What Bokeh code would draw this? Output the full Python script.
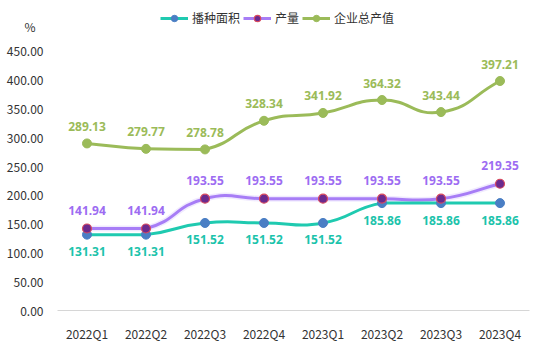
import math
from bokeh.plotting import figure
from bokeh.models import (Range1d, FixedTicker, CustomJSTickFormatter, Legend, LegendItem,
                          ColumnDataSource)
from bokeh.core.properties import value
from bokeh.embed import file_html
from bokeh.resources import INLINE

categories = ["2022Q1", "2022Q2", "2022Q3", "2022Q4", "2023Q1", "2023Q2", "2023Q3", "2023Q4"]
area = [131.31, 131.31, 151.52, 151.52, 151.52, 185.86, 185.86, 185.86]
output = [141.94, 141.94, 193.55, 193.55, 193.55, 193.55, 193.55, 219.35]
value_total = [289.13, 279.77, 278.78, 328.34, 341.92, 364.32, 343.44, 397.21]
series_names = ["播种面积", "产量", "企业总产值"]
y_ticks = [0, 50, 100, 150, 200, 250, 300, 350, 400, 450]
y_unit = "%"

W, H = 555, 353
LEFT, RIGHT, BOTTOM = 57, 26, 43
frame_w = W - LEFT - RIGHT
frame_h = H - BOTTOM
PX_X = frame_w / 8.0
PX_Y = 260.0 / 450.0
Y_TOP = frame_h / PX_Y
UNIT_POS = (frame_h - 26) / PX_Y

FONT = "Noto Sans CJK SC"
NUMFONT = "Noto Sans"

p = figure(width=W, height=H, output_backend="svg", toolbar_location=None,
           x_range=Range1d(-0.5, 7.5), y_range=Range1d(0, Y_TOP),
           min_border_left=LEFT, min_border_right=RIGHT, min_border_top=0,
           min_border_bottom=BOTTOM)
p.outline_line_color = None
p.grid.visible = False
p.background_fill_color = "white"
p.border_fill_color = "white"

xs = list(range(len(categories)))


def smooth_curve(xv, yv, smooth=0.5):
    # smooth bezier control points (cardinal-like), computed in pixel space
    pts = [(x * PX_X, y * PX_Y) for x, y in zip(xv, yv)]
    n = len(pts)
    minx = min(q[0] for q in pts); maxx = max(q[0] for q in pts)
    miny = min(q[1] for q in pts); maxy = max(q[1] for q in pts)
    cps = []
    for i in range(n):
        pt = pts[i]
        prv = pts[i - 1] if i > 0 else pt
        nxt = pts[i + 1] if i < n - 1 else pt
        vx = (nxt[0] - prv[0]) * smooth
        vy = (nxt[1] - prv[1]) * smooth
        d0 = math.hypot(pt[0] - prv[0], pt[1] - prv[1])
        d1 = math.hypot(pt[0] - nxt[0], pt[1] - nxt[1])
        s = d0 + d1
        if s:
            d0 /= s
            d1 /= s
        c0 = (pt[0] - vx * d0, pt[1] - vy * d0)
        c1 = (pt[0] + vx * d1, pt[1] + vy * d1)
        clamp = lambda c: (min(max(c[0], minx), maxx), min(max(c[1], miny), maxy))
        cps.append((clamp(c0), clamp(c1)))
    d = dict(x0=[], y0=[], x1=[], y1=[], cx0=[], cy0=[], cx1=[], cy1=[])
    for i in range(n - 1):
        d["x0"].append(pts[i][0] / PX_X)
        d["y0"].append(pts[i][1] / PX_Y)
        d["x1"].append(pts[i + 1][0] / PX_X)
        d["y1"].append(pts[i + 1][1] / PX_Y)
        d["cx0"].append(cps[i][1][0] / PX_X)
        d["cy0"].append(cps[i][1][1] / PX_Y)
        d["cx1"].append(cps[i + 1][0][0] / PX_X)
        d["cy1"].append(cps[i + 1][0][1] / PX_Y)
    return ColumnDataSource(d)


teal = "#1FCAB0"
teal_text = "#1CC3AB"
blue_marker = "#4A7EC4"
purple_line = "#A77DF6"
purple_text = "#9D6CF2"
purple_marker = "#6A2A8E"
purple_edge = "#D94A5E"
green = "#9BBB59"

# green series
g_src = smooth_curve(xs, value_total)
g_line = p.bezier("x0", "y0", "x1", "y1", "cx0", "cy0", "cx1", "cy1", source=g_src,
                  line_color=green, line_width=3)
g_pts = p.scatter(xs, value_total, size=9, fill_color=green, line_color=green)

# purple series (with soft glow)
u_src = smooth_curve(xs, output)
p.bezier("x0", "y0", "x1", "y1", "cx0", "cy0", "cx1", "cy1", source=u_src,
         line_color="#D3C2FB", line_width=6, line_alpha=0.35)
u_line = p.bezier("x0", "y0", "x1", "y1", "cx0", "cy0", "cx1", "cy1", source=u_src,
                  line_color=purple_line, line_width=3)

# teal series
t_src = smooth_curve(xs, area)
t_line = p.bezier("x0", "y0", "x1", "y1", "cx0", "cy0", "cx1", "cy1", source=t_src,
                  line_color=teal, line_width=3)
t_pts = p.scatter(xs, area, size=9, fill_color=blue_marker, line_color=blue_marker)
u_pts = p.scatter(xs, output, size=9, fill_color=purple_marker, line_color=purple_edge,
                  line_width=1.2)

lbl = lambda v: ["%.2f" % t for t in v]
p.text(xs, value_total, text=lbl(value_total), text_color=green, text_font=value(NUMFONT),
       text_font_size="12px", text_font_style="bold", text_align="center",
       text_baseline="middle", y_offset=-17)
p.text(xs, output, text=lbl(output), text_color=purple_text, text_font=value(NUMFONT),
       text_font_size="12px", text_font_style="bold", text_align="center",
       text_baseline="middle", y_offset=-18)
p.text(xs, area, text=lbl(area), text_color=teal_text, text_font=value(NUMFONT),
       text_font_size="12px", text_font_style="bold", text_align="center",
       text_baseline="middle", y_offset=17)

# axes
p.yaxis.ticker = FixedTicker(ticks=y_ticks + [UNIT_POS])
p.yaxis.formatter = CustomJSTickFormatter(
    args=dict(unit=y_unit, upos=UNIT_POS),
    code="return Math.abs(tick - upos) < 1e-6 ? unit + '\\u00a0\\u00a0\\u00a0' : tick.toFixed(2);")
p.yaxis.axis_line_color = None
p.yaxis.major_tick_line_color = None
p.yaxis.minor_tick_line_color = None
p.yaxis.major_label_text_font = FONT
p.yaxis.major_label_text_font_size = "12px"
p.yaxis.major_label_text_color = "#333333"
p.yaxis.major_label_standoff = 8

p.xaxis.ticker = FixedTicker(ticks=xs)
p.xaxis.major_label_overrides = {i: c for i, c in enumerate(categories)}
p.xaxis.axis_line_color = "#D6D6D6"
p.xaxis.axis_line_width = 1
p.xaxis.major_tick_line_color = None
p.xaxis.minor_tick_line_color = None
p.xaxis.major_label_text_font = FONT
p.xaxis.major_label_text_font_size = "12px"
p.xaxis.major_label_text_color = "#333333"
p.xaxis.major_label_standoff = 8

legend = Legend(items=[
    LegendItem(label=series_names[0], renderers=[t_line, t_pts]),
    LegendItem(label=series_names[1], renderers=[u_line, u_pts]),
    LegendItem(label=series_names[2], renderers=[g_line, g_pts]),
], orientation="horizontal", location=(160 - LEFT, frame_h - 26),
    label_text_font=FONT, label_text_font_size="12px", label_text_color="#333333",
    glyph_width=28, glyph_height=16, label_height=16, label_standoff=4, spacing=3,
    padding=0, margin=0, border_line_color=None, background_fill_alpha=0)
p.add_layout(legend, "center")

open("out.html", "w").write(file_html(p, INLINE))
